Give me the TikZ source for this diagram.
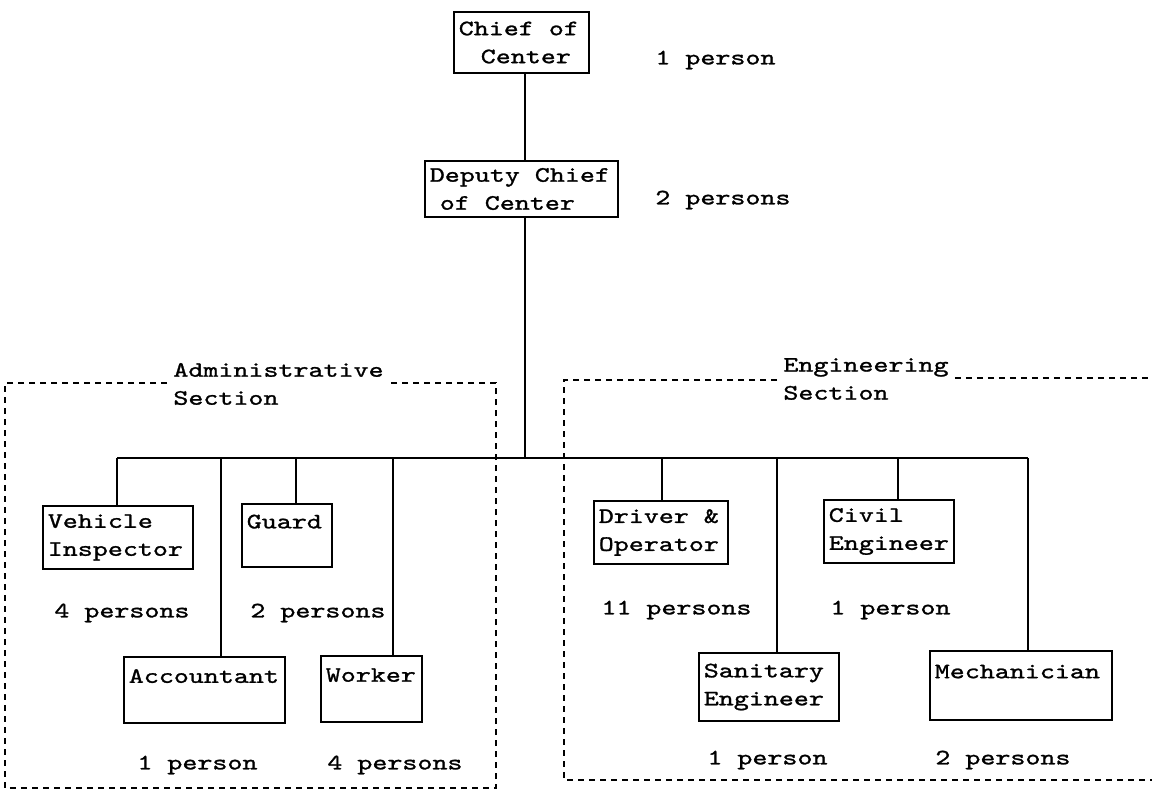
\documentclass[tikz,border=0pt]{standalone}
\usepackage{fontspec}
\newfontfamily\tw{lmmono10-regular.otf}[FakeStretch=1.3, FakeBold=1.2]
\newcommand\tspace{\hphantom{x}}
\begin{document}
\begin{tikzpicture}[x=0.5pt,y=-0.5pt,
  every node/.style={font={\tw\fontsize{11}{14}\selectfont}},
  box/.style={draw, line width=0.9pt, inner xsep=2.4pt, inner ysep=2pt, align=left},
  lbl/.style={anchor=west, inner sep=0pt},
  link/.style={line width=0.9pt},
  sect/.style={line width=0.7pt, dash pattern=on 3pt off 2.5pt},
  seclabel/.style={align=left, inner xsep=3pt, inner ysep=0pt, anchor=west}]
\useasboundingbox (0,0) rectangle (1152,798);

% boxes
\node[box, minimum width=67.5pt, text width=62.7pt, minimum height=30.5pt] (chief) at (521.5,42.5) {Chief\tspace of\\\hspace*{11pt}Center};
\node[box, minimum width=96.5pt, text width=91.7pt, minimum height=28pt] (deputy) at (521.5,189) {Deputy\tspace Chief\\\hspace*{5pt}of\tspace Center};
\node[box, minimum width=75pt, text width=70.2pt, minimum height=31.5pt] (vehicle) at (118,537.5) {Vehicle\\Inspector};
\node[box, minimum width=45pt, text width=40.2pt, minimum height=31.5pt] (guard) at (287,535.5) {Guard\\\mbox{}};
\node[box, minimum width=80.5pt, text width=75.7pt, minimum height=33pt] (acct) at (204.5,690) {Accountant\\\mbox{}};
\node[box, minimum width=50.5pt, text width=45.7pt, minimum height=33pt] (worker) at (371.5,689) {Worker\\\mbox{}};
\node[box, minimum width=67pt, text width=62.2pt, minimum height=31.5pt] (driver) at (661,532.5) {Driver\tspace\&\\Operator};
\node[box, minimum width=65pt, text width=60.2pt, minimum height=31.5pt] (civil) at (889,531.5) {Civil\\Engineer};
\node[box, minimum width=70pt, text width=65.2pt, minimum height=34pt] (sanit) at (769,687) {Sanitary\\Engineer};
\node[box, minimum width=91pt, text width=86.2pt, minimum height=34.5pt] (mech) at (1021,685.5) {Mechanician\\\mbox{}};

% connectors
\coordinate (J) at (525,458);
\coordinate (bV) at (117,458);
\coordinate (bA) at (221,458);
\coordinate (bG) at (296,458);
\coordinate (bW) at (393,458);
\coordinate (bD) at (662,458);
\coordinate (bS) at (777,458);
\coordinate (bC) at (898,458);
\coordinate (bM) at (1028,458);
\draw[link] (J |- chief.south) -- (J |- deputy.north);
\draw[link] (J |- deputy.south) -- (J);
\draw[link] (bV) -- (bM);
\draw[link] (bV) -- (bV |- vehicle.north);
\draw[link] (bA) -- (bA |- acct.north);
\draw[link] (bG) -- (bG |- guard.north);
\draw[link] (bW) -- (bW |- worker.north);
\draw[link] (bD) -- (bD |- driver.north);
\draw[link] (bS) -- (bS |- sanit.north);
\draw[link] (bC) -- (bC |- civil.north);
\draw[link] (bM) -- (bM |- mech.north);

% sections
\node[seclabel] (admlbl) at (167,384) {Administrative\\Section};
\coordinate (a1) at (5,383);
\coordinate (a2) at (496,383);
\coordinate (a3) at (496,788);
\coordinate (a4) at (5,788);
\draw[sect] (admlbl.west |- a1) -- (a1) -- (a4) -- (a3) -- (a2) -- (admlbl.east |- a2);

\node[seclabel] (englbl) at (777,379) {Engineering\\Section};
\coordinate (e1) at (564,380);
\coordinate (e2) at (1152,378);
\coordinate (e3) at (1152,780);
\coordinate (e4) at (564,780);
\draw[sect] (englbl.west |- e1) -- (e1) -- (e4) -- (e3);
\draw[sect] (englbl.east |- e2) -- (e2);

% counts
\node[lbl] (c1) at (655,60) {1 person};
\node[lbl] (c2) at (655,200) {2 persons};
\node[lbl] (cV) at (54,613) {4 persons};
\node[lbl] (cG) at (250,613) {2 persons};
\node[lbl] (cA) at (137,765) {1 person};
\node[lbl] (cW) at (327,765) {4 persons};
\node[lbl] (cD) at (601,610) {11 persons};
\node[lbl] (cC) at (830,610) {1 person};
\node[lbl] (cS) at (707,760) {1 person};
\node[lbl] (cM) at (935,760) {2 persons};
\end{tikzpicture}
\end{document}
